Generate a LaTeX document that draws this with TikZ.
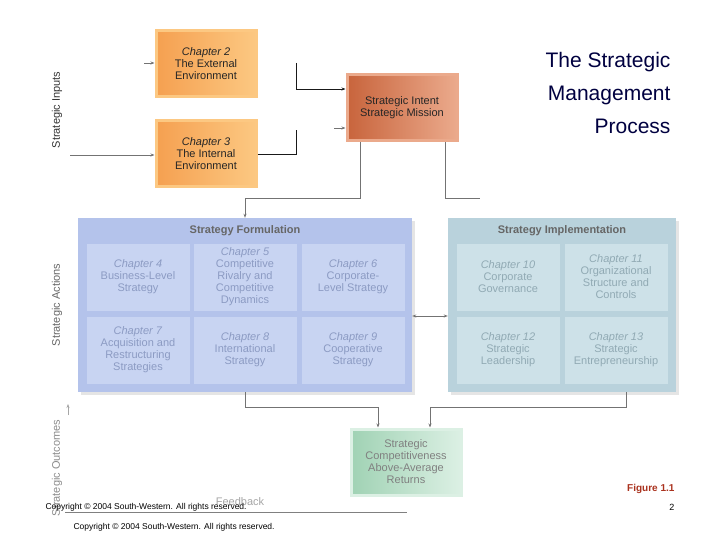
\documentclass[tikz,border=0pt]{standalone}
\usepackage{fontspec}
\setmainfont{Liberation Sans}
\usetikzlibrary{arrows.meta,shadows}
\definecolor{org}{RGB}{245,160,80}
\definecolor{orgL}{RGB}{252,200,130}
\definecolor{rust}{RGB}{200,100,60}
\definecolor{rustL}{RGB}{235,170,140}
\definecolor{fpan}{RGB}{180,195,235}
\definecolor{fcell}{RGB}{200,212,242}
\definecolor{ftext}{RGB}{140,155,195}
\definecolor{ipan}{RGB}{185,210,220}
\definecolor{icell}{RGB}{205,225,232}
\definecolor{itext}{RGB}{145,170,180}
\definecolor{grn}{RGB}{160,210,180}
\definecolor{grnL}{RGB}{220,240,228}
\definecolor{figred}{RGB}{170,50,30}
\begin{document}
\begin{tikzpicture}[x=1pt,y=-1pt,
 chap/.style={draw=orgL,line width=3pt,left color=org,right color=orgL,align=center,font=\fontsize{11}{12}\selectfont,text=black!85},
 cell/.style={fill=fcell,align=center,font=\fontsize{11}{12}\selectfont,text=ftext,minimum width=103pt,minimum height=67pt},
 icellst/.style={fill=icell,align=center,font=\fontsize{11}{12}\selectfont,text=itext,minimum width=103pt,minimum height=67pt},
 side/.style={rotate=90,font=\fontsize{11}{12}\selectfont},
 ln/.style={draw=black!55,line width=0.7pt},
 arr/.style={ln,-{Stealth[length=4pt,width=3pt]}}]
\useasboundingbox[fill=white] (0,0) rectangle (720,540);
% title
\node[align=right,anchor=north east,font=\fontsize{21}{33}\selectfont,text=blue!25!black] (title) at (674,49) {The Strategic\\Management\\Process};
% side labels
\node[side,text=black!80] (si) at (57,110) {Strategic Inputs};
\node[side,text=black!60] (sa) at (57,305) {Strategic Actions};
\node[side,text=black!45] (so) at (57,468) {Strategic Outcomes};
% input boxes
\node[chap,minimum width=100pt,minimum height=66pt] (c2) at (206,64) {\textit{Chapter 2}\\The External\\Environment};
\node[chap,minimum width=100pt,minimum height=66pt] (c3) at (206,154) {\textit{Chapter 3}\\The Internal\\Environment};
\node[draw=rustL,line width=3pt,left color=rust,right color=rustL,minimum width=110pt,minimum height=66pt,align=center,font=\fontsize{11}{12}\selectfont,text=black!85] (si2) at (402,108) {Strategic Intent\\Strategic Mission};
\coordinate (a1) at (296,63); \coordinate (a2) at (296,89);
\draw[arr,black!90] (a1) -- (a2) -- (si2.west |- a2);
\coordinate (b1) at (296,154); \coordinate (b2) at (296,130);
\draw[ln,black!90] (c3.east |- b1) -- (b1) -- (b2);
\coordinate (b3) at (334,128);
\draw[arr] (b3) -- (si2.west |- b3);
\coordinate (i0) at (70,155);
\draw[arr] (i0) -- (c3.west |- i0);
\coordinate (t0) at (144,63);
\draw[arr] (t0) -- (c2.west |- t0);
% formulation
\node[fill=fpan,minimum width=334pt,minimum height=174pt,drop shadow={opacity=0.2}] (fp) at (245,305) {};
\node[font=\bfseries\fontsize{11}{12}\selectfont,text=black!60] (fh) at (245,231) {Strategy Formulation};
\node[cell] (c4) at (138,277) {\textit{Chapter 4}\\Business-Level\\Strategy};
\node[cell] (c5) at (245,277) {\textit{Chapter 5}\\Competitive\\Rivalry and\\Competitive\\Dynamics};
\node[cell] (c6) at (353,277) {\textit{Chapter 6}\\Corporate-\\Level Strategy};
\node[cell] (c7) at (138,350) {\textit{Chapter 7}\\Acquisition and\\Restructuring\\Strategies};
\node[cell] (c8) at (245,350) {\textit{Chapter 8}\\International\\Strategy};
\node[cell] (c9) at (353,350) {\textit{Chapter 9}\\Cooperative\\Strategy};
% implementation
\node[fill=ipan,minimum width=228pt,minimum height=174pt,drop shadow={opacity=0.2}] (ip) at (562,305) {};
\node[font=\bfseries\fontsize{11}{12}\selectfont,text=black!60] (ih) at (562,231) {Strategy Implementation};
\node[icellst] (c10) at (508,277) {\textit{Chapter 10}\\Corporate\\Governance};
\node[icellst] (c11) at (616,277) {\textit{Chapter 11}\\Organizational\\Structure and\\Controls};
\node[icellst] (c12) at (508,350) {\textit{Chapter 12}\\Strategic\\Leadership};
\node[icellst] (c13) at (616,350) {\textit{Chapter 13}\\Strategic\\Entrepreneurship};
\draw[ln,{Stealth[length=4pt,width=3pt]}-{Stealth[length=4pt,width=3pt]}] (fp.east |- 0,316) -- (ip.west |- 0,316);
% intent down
\coordinate (d1) at (360,198); \coordinate (d2) at (245,198);
\draw[arr] (si2.south -| d1) -- (d1) -- (d2) -- (fp.north -| d2);
\coordinate (e1) at (445,198); \coordinate (e2) at (480,198);
\draw[ln] (si2.south -| e1) -- (e1) -- (e2);
% outcomes
\node[draw=grnL,line width=3pt,left color=grn,right color=grnL,minimum width=110pt,minimum height=66pt,align=center,font=\fontsize{11}{12}\selectfont,text=black!50] (out) at (406,462) {Strategic\\Competitiveness\\Above-Average\\Returns};
\coordinate (f1) at (245,407); \coordinate (f2) at (378,407);
\draw[arr] (fp.south -| f1) -- (f1) -- (f2) -- (out.north -| f2);
\coordinate (g1) at (626,407); \coordinate (g2) at (430,407);
\draw[arr] (ip.south -| g1) -- (g1) -- (g2) -- (out.north -| g2);
\coordinate (h0) at (68,415); \coordinate (h1) at (68,404);
\draw[arr,black!35] (h0) -- (h1);
\node[text=black!35,font=\fontsize{11}{12}\selectfont] (fb) at (240,502) {Feedback};
\coordinate (l0) at (65,512); \coordinate (l1) at (407,512);
\draw[ln,black!50] (l0) -- (l1);
\node[anchor=west,font=\fontsize{8.5}{10}\selectfont] (cp1) at (42,507) {Copyright © 2004 South-Western. All rights reserved.};
\node[anchor=west,font=\fontsize{8.5}{10}\selectfont] (cp2) at (70,527) {Copyright © 2004 South-Western. All rights reserved.};
\node[anchor=east,font=\bfseries\fontsize{10}{11}\selectfont,text=figred] (fig) at (678,489) {Figure 1.1};
\node[anchor=east,font=\fontsize{9}{10}\selectfont] (pg) at (678,507) {2};
\end{tikzpicture}
\end{document}
